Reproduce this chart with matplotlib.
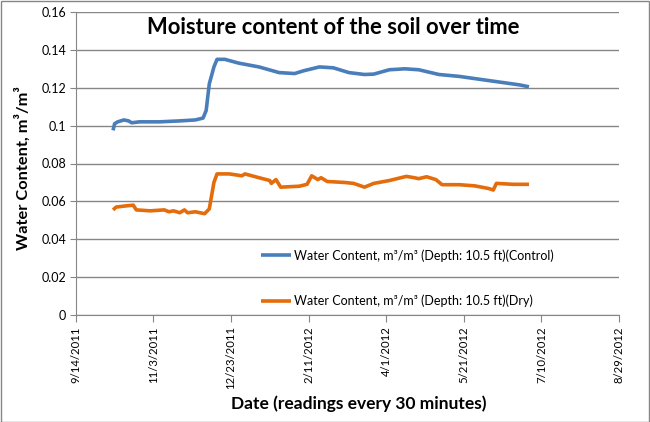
import matplotlib
matplotlib.use('agg')
import numpy as np
import pandas as pd
import matplotlib.pyplot as plt
from matplotlib.ticker import FuncFormatter
from matplotlib.patches import Rectangle

plt.rcParams['font.family'] = ['Lato', 'DejaVu Sans']

# readings
control_dates = ['2011-10-08', '2011-10-09', '2011-10-11', '2011-10-15', '2011-10-18',
                 '2011-10-20', '2011-10-25', '2011-11-07', '2011-11-20', '2011-11-30',
                 '2011-12-05', '2011-12-07', '2011-12-09', '2011-12-12', '2011-12-14',
                 '2011-12-19', '2011-12-28', '2012-01-10', '2012-01-23', '2012-02-02',
                 '2012-02-08', '2012-02-18', '2012-02-27', '2012-03-08', '2012-03-18',
                 '2012-03-24', '2012-04-03', '2012-04-13', '2012-04-22', '2012-05-05',
                 '2012-05-18', '2012-05-31', '2012-06-13', '2012-06-26', '2012-07-02']
control_vals = [0.0975, 0.101, 0.102, 0.103, 0.1025,
                0.1015, 0.102, 0.102, 0.1025, 0.103,
                0.104, 0.108, 0.122, 0.131, 0.135,
                0.135, 0.133, 0.131, 0.128, 0.1275,
                0.129, 0.131, 0.1305, 0.128, 0.127,
                0.1272, 0.1295, 0.130, 0.1295, 0.127,
                0.126, 0.1245, 0.123, 0.1215, 0.1205]

dry_dates = ['2011-10-08', '2011-10-10', '2011-10-15', '2011-10-21', '2011-10-23',
             '2011-11-01', '2011-11-10', '2011-11-13', '2011-11-16', '2011-11-20',
             '2011-11-23', '2011-11-25', '2011-11-30', '2011-12-03', '2011-12-06',
             '2011-12-09', '2011-12-12', '2011-12-14', '2011-12-22', '2011-12-30',
             '2012-01-01', '2012-01-10', '2012-01-17', '2012-01-18', '2012-01-21',
             '2012-01-24', '2012-02-05', '2012-02-10', '2012-02-13', '2012-02-17',
             '2012-02-19', '2012-02-23', '2012-03-05', '2012-03-11', '2012-03-18',
             '2012-03-24', '2012-04-03', '2012-04-14', '2012-04-19', '2012-04-22',
             '2012-04-27', '2012-05-03', '2012-05-07', '2012-05-18', '2012-05-28',
             '2012-06-06', '2012-06-09', '2012-06-11', '2012-06-22', '2012-07-02']
dry_vals = [0.0555, 0.057, 0.0575, 0.058, 0.0555,
            0.055, 0.0555, 0.0545, 0.055, 0.054,
            0.0555, 0.054, 0.0545, 0.054, 0.0535,
            0.056, 0.070, 0.0745, 0.0745, 0.0735,
            0.0745, 0.0725, 0.071, 0.0695, 0.0715,
            0.0675, 0.068, 0.069, 0.0735, 0.0715,
            0.0725, 0.0705, 0.070, 0.0695, 0.0675,
            0.0695, 0.071, 0.0732, 0.0725, 0.072,
            0.073, 0.0715, 0.0688, 0.0688, 0.0682,
            0.0668, 0.066, 0.0695, 0.069, 0.069]

label_control = 'Water Content, m³/m³ (Depth: 10.5 ft)(Control)'
label_dry = 'Water Content, m³/m³ (Depth: 10.5 ft)(Dry)'

x_start = pd.Timestamp('2011-09-14')
x_ticks = pd.date_range(x_start, periods=8, freq='50D')
y_ticks = [0, 0.02, 0.04, 0.06, 0.08, 0.1, 0.12, 0.14, 0.16]

blue = '#4A7EBB'
orange = '#E46C0A'
gray = '#868686'

fig = plt.figure(figsize=(6.5, 4.22), dpi=100)
W, H = 650, 422
ax = fig.add_axes([75.8 / W, 1 - 315 / H, (619 - 75.8) / W, (315 - 12) / H])

ax.plot(pd.to_datetime(control_dates), control_vals, color=blue, lw=2.6,
        label=label_control, solid_capstyle='butt')
ax.plot(pd.to_datetime(dry_dates), dry_vals, color=orange, lw=2.6,
        label=label_dry, solid_capstyle='butt')

ax.set_xlim(x_ticks[0], x_ticks[-1])
ax.set_ylim(0, 0.16)
ax.set_xticks(x_ticks)
ax.set_xticklabels([f'{d.month}/{d.day}/{d.year}' for d in x_ticks], rotation=90,
                   fontsize=8.2)
ax.set_yticks(y_ticks)
ax.yaxis.set_major_formatter(FuncFormatter(lambda v, p: f'{v:g}'))
ax.tick_params(axis='y', labelsize=9, length=4, color=gray, pad=3)
ax.tick_params(axis='x', length=5, color=gray, pad=3)

ax.grid(axis='y', color=gray, lw=1)
ax.set_axisbelow(True)
for s in ['top', 'right']:
    ax.spines[s].set_visible(False)
for s in ['left', 'bottom']:
    ax.spines[s].set_color(gray)

fig.text(333 / W, 1 - 28 / H, 'Moisture content of the soil over time',
         ha='center', va='center', fontsize=15.8, fontweight='bold')

fig.text(23 / W, 1 - 168 / H, 'Water Content, m³/m³', rotation=90, ha='center',
         va='center', fontsize=11.8, fontweight='bold')
fig.text(359 / W, 1 - 404 / H, 'Date (readings every 30 minutes)', ha='center',
         va='center', fontsize=12.5, fontweight='bold')

ax.legend(loc='upper left', bbox_to_anchor=(255 / W, 1 - 243 / H),
          bbox_transform=fig.transFigure, frameon=False, fontsize=9,
          handlelength=2.4, handletextpad=0.2, labelspacing=2.65, borderpad=0)

fig.add_artist(Rectangle((0.5 / W, 0.5 / H), 1 - 1.5 / W, 1 - 1.5 / H,
                         transform=fig.transFigure, fill=False, ec=gray, lw=1))

fig.savefig('out.png', dpi=100)
